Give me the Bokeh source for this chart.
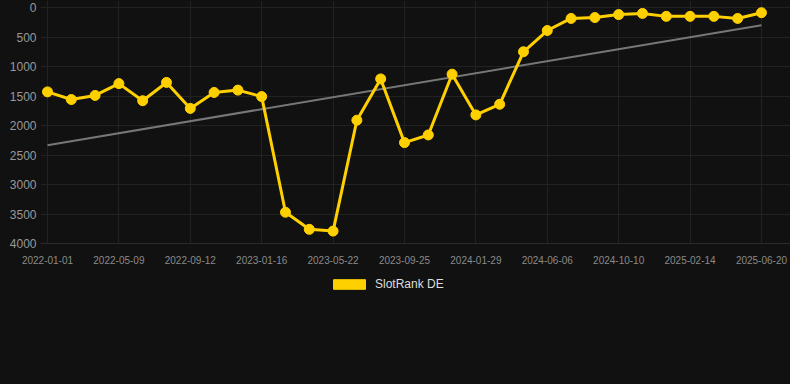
from bokeh.plotting import figure
from bokeh.layouts import column
from bokeh.models import Range1d, FixedTicker, Legend, LegendItem, ColumnDataSource
from bokeh.embed import file_html
from bokeh.resources import INLINE

# ---- data ----
tick_labels = ["2022-01-01", "2022-05-09", "2022-09-12", "2023-01-16", "2023-05-22",
               "2023-09-25", "2024-01-29", "2024-06-06", "2024-10-10", "2025-02-14",
               "2025-06-20"]
rank = [1430, 1560, 1490, 1290, 1580, 1270, 1710, 1440, 1400, 1510,
        3470, 3760, 3790, 1910, 1210, 2290, 2160, 1130, 1820, 1640,
        750, 390, 185, 170, 120, 100, 150, 150, 150, 185, 88]
trend_ends = [2333, 300]
series_name = "SlotRank DE"

idx = list(range(len(rank)))
tick_pos = [i * 3 for i in range(len(tick_labels))]

BG = "#111111"
GOLD = "#FFD000"
FONT = "Liberation Sans"

p = figure(width=790, height=270, output_backend="svg", toolbar_location=None,
           x_range=Range1d(-0.294, 31.22), y_range=Range1d(4000, -119),
           background_fill_color=BG, border_fill_color=BG, outline_line_color=None,
           min_border_left=40, min_border_right=0, min_border_top=0, min_border_bottom=27)

p.xgrid.grid_line_color = "#222222"
p.ygrid.grid_line_color = "#222222"
p.xaxis.ticker = FixedTicker(ticks=tick_pos)
p.xaxis.major_label_overrides = {t: l for t, l in zip(tick_pos, tick_labels)}
p.yaxis.ticker = FixedTicker(ticks=[0, 500, 1000, 1500, 2000, 2500, 3000, 3500, 4000])

for ax in (p.xaxis[0], p.yaxis[0]):
    ax.axis_line_color = None
    ax.major_tick_line_color = None
    ax.minor_tick_line_color = None
    ax.major_tick_out = 0
    ax.major_tick_in = 0
    ax.major_label_text_font = FONT
p.xaxis.axis_line_color = "#2a2a2a"
p.xaxis.major_label_text_font_size = "10px"
p.xaxis.major_label_text_color = "#8a8a8a"
p.xaxis.major_label_standoff = 12
p.yaxis.major_label_text_font_size = "12px"
p.yaxis.major_label_text_color = "#999999"
p.yaxis.major_label_standoff = 4

p.line([idx[0], idx[-1]], trend_ends, line_color="#777777", line_width=2)
p.line(idx, rank, line_color=GOLD, line_width=3)
p.scatter(idx, rank, size=10, fill_color=GOLD, line_color=GOLD)

# legend strip below the chart
p2 = figure(width=790, height=114, output_backend="svg", toolbar_location=None,
            x_range=Range1d(0, 1), y_range=Range1d(0, 1),
            background_fill_color=BG, border_fill_color=BG, outline_line_color=None,
            min_border_left=40, min_border_right=0, min_border_top=0, min_border_bottom=0)
p2.axis.visible = False
p2.grid.visible = False
nan = float("nan")
swatch = p2.quad(source=ColumnDataSource(dict(left=[nan], right=[nan], top=[nan], bottom=[nan])),
                 left="left", right="right", top="top", bottom="bottom",
                 fill_color=GOLD, line_color=GOLD)
legend = Legend(items=[LegendItem(label=series_name, renderers=[swatch])],
                location=(289, 93), orientation="horizontal",
                background_fill_color=BG, background_fill_alpha=0, border_line_color=None,
                glyph_width=40, glyph_height=12, label_standoff=6,
                label_text_font=FONT, label_text_font_size="12px", label_text_color="#dddddd",
                padding=5, margin=0, spacing=0)
p2.add_layout(legend, "center")

layout = column(p, p2, spacing=0, styles={"background-color": BG})
html = file_html(layout, INLINE)
html = html.replace("<body>", '<body style="background-color:#111111;">', 1)
open("out.html", "w").write(html)
